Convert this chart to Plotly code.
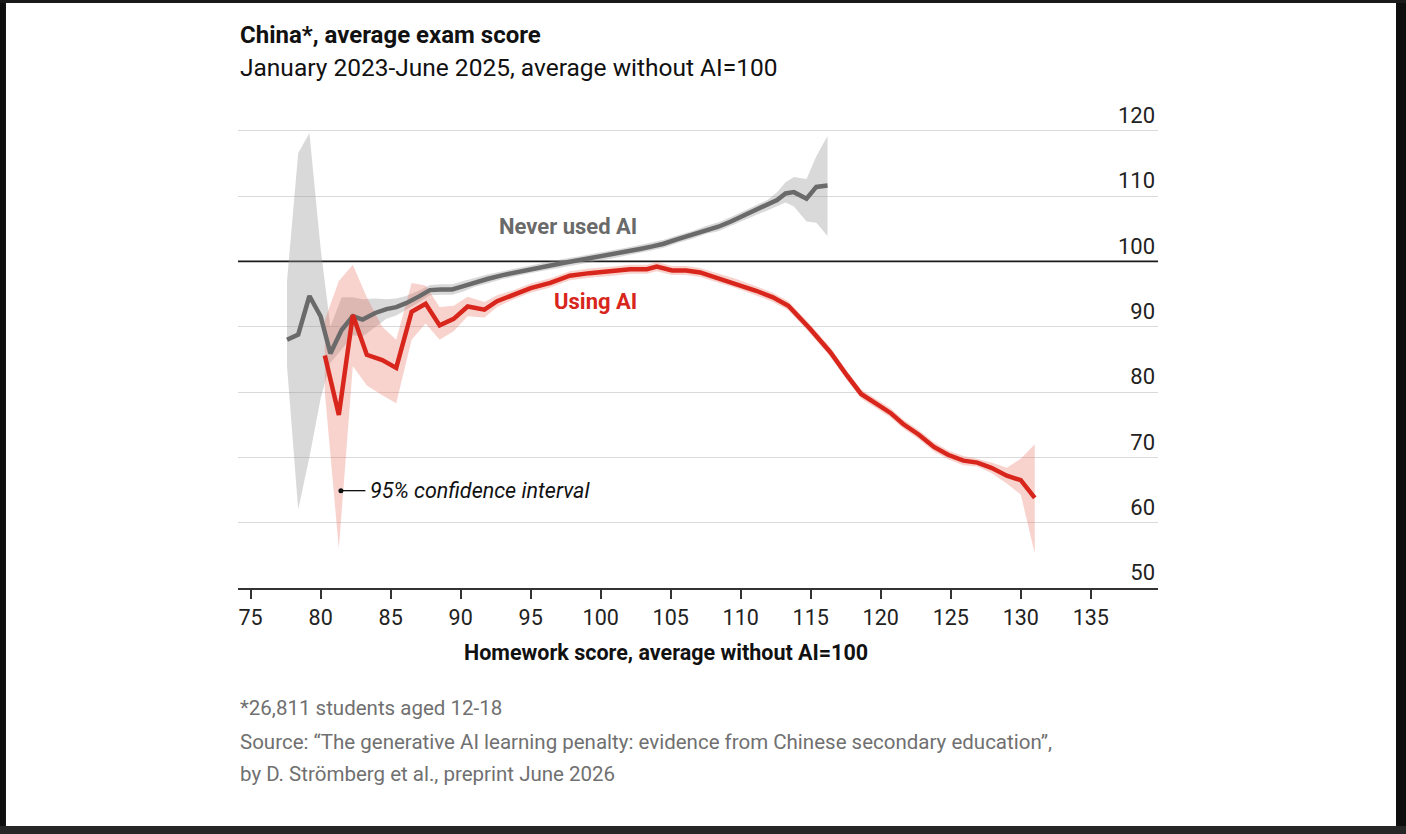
import plotly.graph_objects as go

# Never used AI: homework score (x) vs exam score (y), with 95% CI
grey_x = [77.6, 78.4, 79.2, 80.0, 80.7, 81.5, 82.3, 83.0, 83.9, 84.7, 85.4, 86.1, 87.0, 87.8, 88.6,
          89.4, 90.2, 91.0, 91.9, 93.0, 94.1, 95.2, 96.3, 97.4, 98.5, 99.6, 100.7, 101.8, 102.8,
          103.7, 104.5, 105.5, 106.6, 107.5, 108.4, 109.3, 110.2, 111.1, 111.9, 112.6, 113.2,
          113.8, 114.7, 115.4, 116.2]
grey_y = [88.0, 88.8, 94.7, 91.6, 85.9, 89.5, 91.6, 91.1, 92.1, 92.7, 93.0, 93.6, 94.6, 95.6, 95.7,
          95.7, 96.2, 96.8, 97.3, 97.9, 98.4, 98.9, 99.4, 99.8, 100.2, 100.6, 101.0, 101.5, 101.9,
          102.3, 102.7, 103.4, 104.1, 104.8, 105.3, 106.1, 107.0, 107.8, 108.6, 109.4, 110.4,
          110.6, 109.6, 111.4, 111.6]
grey_hi = [97.0, 116.6, 119.6, 102.0, 90.0, 94.5, 94.5, 94.2, 94.3, 94.2, 94.3, 94.7, 95.5, 96.4,
           96.5, 96.5, 97.0, 97.5, 98.0, 98.5, 99.0, 99.5, 100.0, 100.4, 100.8, 101.2, 101.6,
           102.1, 102.5, 102.9, 103.3, 104.0, 104.7, 105.4, 106.0, 106.8, 107.7, 108.5, 109.4,
           110.6, 112.1, 112.9, 112.6, 116.1, 119.2]
grey_lo = [84.0, 62.0, 70.0, 79.0, 84.5, 86.5, 88.7, 88.5, 89.9, 91.2, 91.7, 92.5, 93.7, 94.8,
           94.9, 94.9, 95.4, 96.1, 96.6, 97.3, 97.8, 98.3, 98.8, 99.2, 99.6, 100.0, 100.4, 100.9,
           101.3, 101.7, 102.1, 102.8, 103.5, 104.2, 104.6, 105.4, 106.3, 107.1, 107.8, 108.4,
           109.0, 108.4, 106.1, 105.9, 103.9]

# Using AI
red_x = [80.3, 81.3, 82.3, 83.3, 84.4, 85.4, 86.5, 87.5, 88.5, 89.5, 90.5, 91.7, 92.6, 93.8, 95.0,
         96.4, 97.8, 99.2, 100.9, 102.1, 103.3, 104.0, 105.1, 106.1, 107.1, 108.3, 109.7, 111.1,
         112.3, 113.4, 114.9, 116.4, 117.6, 118.6, 119.7, 120.7, 121.6, 122.7, 123.8, 124.8,
         125.9, 126.9, 127.9, 129.0, 130.0, 131.0]
red_y = [85.6, 76.5, 91.8, 85.7, 84.9, 83.7, 92.3, 93.5, 90.2, 91.2, 93.1, 92.6, 93.9, 94.9, 95.9,
         96.7, 97.8, 98.2, 98.5, 98.8, 98.8, 99.2, 98.6, 98.6, 98.3, 97.5, 96.6, 95.5, 94.5, 93.2,
         89.8, 86.1, 82.5, 79.7, 78.2, 76.8, 75.1, 73.5, 71.6, 70.4, 69.5, 69.2, 68.4, 67.2, 66.5,
         63.8]
red_hi = [91.0, 97.0, 99.5, 94.5, 90.0, 88.0, 96.7, 96.3, 93.0, 93.2, 94.6, 93.8, 94.8, 95.6, 96.6,
          97.4, 98.5, 98.9, 99.2, 99.5, 99.5, 99.9, 99.3, 99.3, 99.0, 98.2, 97.3, 96.2, 95.2, 93.9,
          90.5, 86.8, 83.2, 80.4, 78.9, 77.5, 75.8, 74.2, 72.3, 71.1, 70.2, 69.8, 69.2, 68.4, 69.8,
          72.0]
red_lo = [80.0, 56.0, 84.0, 81.0, 79.5, 78.3, 88.0, 90.5, 88.0, 89.3, 91.6, 91.4, 93.0, 94.2, 95.2,
          96.0, 97.1, 97.5, 97.8, 98.1, 98.1, 98.5, 97.9, 97.9, 97.6, 96.8, 95.9, 94.8, 93.8, 92.5,
          89.1, 85.4, 81.8, 79.0, 77.5, 76.1, 74.4, 72.8, 70.9, 69.7, 68.8, 68.6, 67.6, 66.0, 64.3,
          55.3]

x_ticks = [75, 80, 85, 90, 95, 100, 105, 110, 115, 120, 125, 130, 135]
y_ticks = [50, 60, 70, 80, 90, 100, 110, 120]
BASELINE = 100

FONT = 'Roboto'
GREY = '#6a6a6a'
RED = '#d8261c'

fig = go.Figure()

# confidence bands
fig.add_trace(go.Scatter(
    x=grey_x + grey_x[::-1], y=grey_hi + grey_lo[::-1],
    fill='toself', fillcolor='rgba(150,150,150,0.36)', line=dict(width=0),
    mode='lines', hoverinfo='skip', showlegend=False
))
fig.add_trace(go.Scatter(
    x=red_x + red_x[::-1], y=red_hi + red_lo[::-1],
    fill='toself', fillcolor='rgba(232,110,92,0.30)', line=dict(width=0),
    mode='lines', hoverinfo='skip', showlegend=False
))

# lines
fig.add_trace(go.Scatter(x=grey_x, y=grey_y, mode='lines', name='Never used AI',
                         line=dict(color=GREY, width=4.5), showlegend=False))
fig.add_trace(go.Scatter(x=red_x, y=red_y, mode='lines', name='Using AI',
                         line=dict(color=RED, width=4.5), showlegend=False))

# CI label with dot + leader line
fig.add_trace(go.Scatter(x=[81.45, 83.2], y=[64.9, 64.9], mode='lines',
                         line=dict(color='#111', width=1.3), hoverinfo='skip', showlegend=False))
fig.add_trace(go.Scatter(x=[81.45], y=[64.9], mode='markers',
                         marker=dict(color='#111', size=5), hoverinfo='skip', showlegend=False))

annotations = [
    dict(x=97.7, y=105.3, xref='x', yref='y', text='<b>Never used AI</b>', showarrow=False,
         font=dict(family=FONT, size=22, color=GREY)),
    dict(x=99.6, y=93.8, xref='x', yref='y', text='<b>Using AI</b>', showarrow=False,
         font=dict(family=FONT, size=22, color=RED)),
    dict(x=83.4, y=64.9, xref='x', yref='y', text='<i>95% confidence interval</i>', showarrow=False,
         xanchor='left', font=dict(family=FONT, size=21.5, color='#111')),
    dict(x=0.0, y=1.0994, xref='paper', yref='paper', text='<b>China*, average exam score</b>',
         showarrow=False, xanchor='left', yanchor='middle',
         font=dict(family=FONT, size=24, color='#111')),
    dict(x=0.0, y=1.0338, xref='paper', yref='paper',
         text='January 2023-June 2025, average without AI=100',
         showarrow=False, xanchor='left', yanchor='middle',
         font=dict(family=FONT, size=24.5, color='#111')),
    dict(x=0.4652, y=-0.1292, xref='paper', yref='paper',
         text='<b>Homework score, average without AI=100</b>',
         showarrow=False, xanchor='center', yanchor='middle',
         font=dict(family=FONT, size=21.5, color='#111')),
    dict(x=0.0, y=-0.2386, xref='paper', yref='paper', text='*26,811 students aged 12-18',
         showarrow=False, xanchor='left', yanchor='middle',
         font=dict(family=FONT, size=20.5, color='#707070')),
    dict(x=0.0, y=-0.3062, xref='paper', yref='paper',
         text='Source: \u201cThe generative AI learning penalty: evidence from Chinese secondary education\u201d,',
         showarrow=False, xanchor='left', yanchor='middle',
         font=dict(family=FONT, size=20.5, color='#707070')),
    dict(x=0.0, y=-0.3698, xref='paper', yref='paper',
         text='by D. Str\u00f6mberg et al., preprint June 2026',
         showarrow=False, xanchor='left', yanchor='middle',
         font=dict(family=FONT, size=20.5, color='#707070')),
]

# reference line at 100 and the dark screenshot borders
border = dict(type='rect', xref='paper', yref='paper', line=dict(width=0), layer='above')
shapes = [
    dict(type='line', xref='paper', x0=0, x1=1, yref='y', y0=BASELINE, y1=BASELINE,
         line=dict(color='#1a1a1a', width=1.6), layer='between'),
    dict(border, x0=-0.2587, x1=-0.2522, y0=-0.4891, y1=1.1690, fillcolor='#0e0e0e'),
    dict(border, x0=1.2587, x1=1.2696, y0=-0.4891, y1=1.1690, fillcolor='#0e0e0e'),
    dict(border, x0=-0.2587, x1=1.2696, y0=-0.4891, y1=-0.4732, fillcolor='#262626'),
    dict(border, x0=-0.2587, x1=1.2696, y0=1.1630, y1=1.1690, fillcolor='#1a1a1a'),
]

fig.update_layout(
    width=1406, height=834,
    margin=dict(l=238, r=248, t=85, b=246),
    paper_bgcolor='white', plot_bgcolor='white',
    font=dict(family=FONT, color='#111'),
    showlegend=False,
    annotations=annotations,
    shapes=shapes,
    xaxis=dict(
        range=[74.1, 139.8], tickvals=x_ticks, ticks='outside', ticklen=9, tickwidth=1.5,
        tickcolor='#333', showline=True, linecolor='#333', linewidth=2,
        showgrid=False, zeroline=False, tickfont=dict(size=21.5, color='#222'),
    ),
    yaxis=dict(
        range=[50, 127], tickvals=y_ticks, side='right', ticklabelposition='inside top',
        showgrid=False, zeroline=False, showline=False,
        ticks='', tickfont=dict(size=22, color='#222'),
        minor=dict(tickvals=[v for v in y_ticks if v != BASELINE], showgrid=True,
                   gridcolor='#dadada', gridwidth=1, ticks=''),
    ),
)

fig.write_html('out.html', config={'displayModeBar': False},
               post_script="document.body.style.margin='0';")
